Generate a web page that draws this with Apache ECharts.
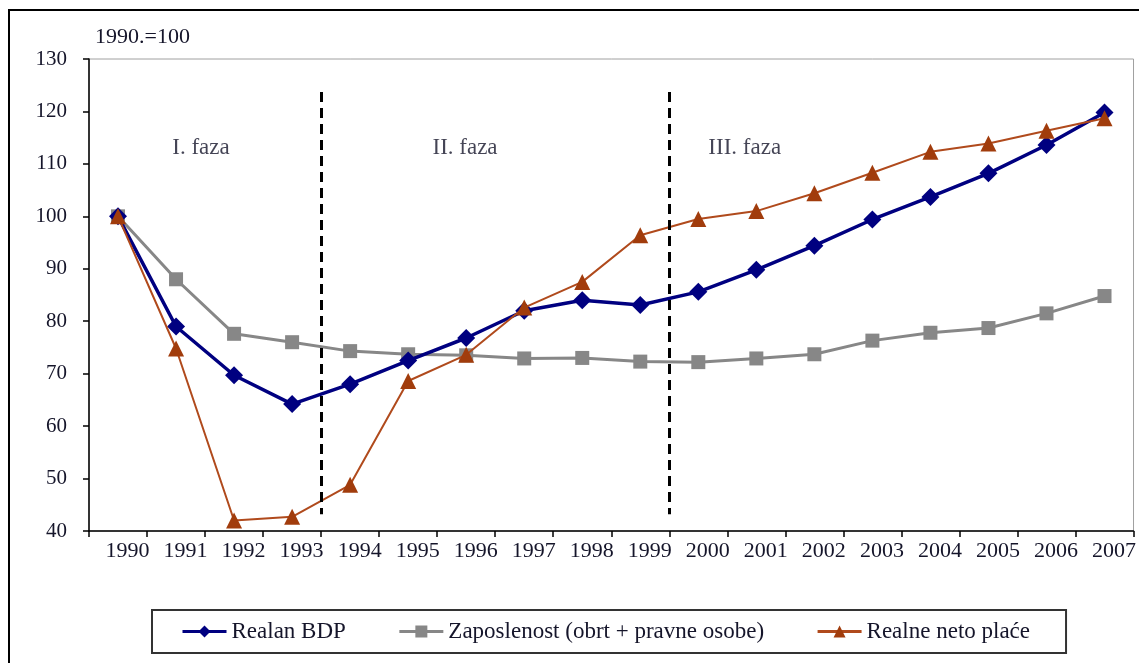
<!DOCTYPE html>
<html>
<head>
<meta charset="utf-8">
<script src="https://cdn.jsdelivr.net/npm/echarts@6/dist/echarts.min.js"></script>
<style>
  html, body { margin: 0; padding: 0; background: #fff; }
  #chart { width: 1139px; height: 663px; }
</style>
</head>
<body>
<div id="chart"></div>
<script>
// godine
var years = ['1990', '1991', '1992', '1993', '1994', '1995', '1996', '1997', '1998',
  '1999', '2000', '2001', '2002', '2003', '2004', '2005', '2006', '2007'];

// 1990.=100
var bdp = [100, 79, 69.7, 64.2, 68, 72.5, 76.8, 82, 84, 83.1, 85.6, 89.8, 94.4, 99.4, 103.7, 108.2, 113.6, 119.8];
var zaposlenost = [100, 88, 77.6, 76, 74.3, 73.7, 73.5, 72.9, 73, 72.3, 72.2, 72.9, 73.7, 76.3, 77.8, 78.7, 81.5, 84.8];
var place = [100, 74.8, 42, 42.7, 48.8, 68.6, 73.6, 82.6, 87.5, 96.4, 99.5, 101, 104.4, 108.3, 112.3, 113.9, 116.3, 118.7];

// faze - granice (na skali 0..18) i natpisi
var phaseBreaks = [4, 10];
var phaseNames = ['I. faza', 'II. faza', 'III. faza'];
var phaseX = [1.93, 6.48, 11.3];
var phaseY = 113;
var breakTop = 123.7;
var breakBottom = 43.2;

var serif = 'Liberation Serif';
var txt = '#15152a';

var phaseData = [];
for (var i = 0; i < phaseNames.length; i++) {
  phaseData.push({ name: phaseNames[i], value: [phaseX[i], phaseY] });
}
var breakLines = [];
for (var j = 0; j < phaseBreaks.length; j++) {
  breakLines.push([{ coord: [phaseBreaks[j], breakTop] }, { coord: [phaseBreaks[j], breakBottom] }]);
}

var dom = document.getElementById('chart');
var myChart = echarts.init(dom);
var option = {
  animation: false,
  textStyle: { fontFamily: serif },
  graphic: [{
    type: 'rect',
    shape: { x: 9, y: 10, width: 1200, height: 700 },
    style: { fill: 'none', stroke: '#000', lineWidth: 2 },
    silent: true
  }, {
    type: 'text',
    left: 95,
    top: 26,
    style: { text: '1990.=100', font: '22px "Liberation Serif"', fill: txt }
  }],
  grid: {
    left: 89,
    right: 5,
    top: 59,
    bottom: 132,
    show: true,
    borderColor: '#a0a0a0',
    borderWidth: 1
  },
  legend: {
    left: 152,
    top: 610,
    padding: [10, 36, 10, 29],
    borderColor: '#333',
    borderWidth: 2,
    itemWidth: 44,
    itemHeight: 15,
    itemGap: 52,
    lineStyle: { width: 3 },
    textStyle: { fontFamily: serif, fontSize: 23, color: txt },
    data: ['Realan BDP', 'Zaposlenost (obrt + pravne osobe)', 'Realne neto plaće']
  },
  xAxis: [{
    type: 'category',
    data: years,
    boundaryGap: true,
    axisLine: { lineStyle: { color: '#000', width: 1.5 } },
    axisTick: { show: true, length: 6, lineStyle: { color: '#000', width: 1.5 } },
    axisLabel: {
      fontFamily: serif, fontSize: 22, color: txt, margin: 9,
      padding: [0, 0, 0, 19], interval: 0
    },
    splitLine: { show: false }
  }, {
    type: 'value',
    min: 0,
    max: 18,
    show: false
  }],
  yAxis: {
    type: 'value',
    min: 40,
    max: 130,
    interval: 10,
    axisLine: { show: true, lineStyle: { color: '#000', width: 1.5 } },
    axisTick: { show: true, length: 6, lineStyle: { color: '#000', width: 1.5 } },
    axisLabel: { fontFamily: serif, fontSize: 21, color: txt, margin: 22 },
    splitLine: { show: false }
  },
  series: [{
    name: 'Zaposlenost (obrt + pravne osobe)',
    type: 'line',
    data: zaposlenost,
    symbol: 'rect',
    symbolSize: 14,
    lineStyle: { color: '#878787', width: 3 },
    itemStyle: { color: '#878787' },
    z: 2
  }, {
    name: 'Realan BDP',
    type: 'line',
    data: bdp,
    symbol: 'diamond',
    symbolSize: 18,
    lineStyle: { color: '#000080', width: 3.5 },
    itemStyle: { color: '#000080' },
    z: 3
  }, {
    name: 'Realne neto plaće',
    type: 'line',
    data: place,
    symbol: 'triangle',
    symbolSize: 16,
    lineStyle: { color: '#b04a1c', width: 2 },
    itemStyle: { color: '#a13c0c' },
    z: 4
  }, {
    name: 'faze',
    type: 'scatter',
    xAxisIndex: 1,
    data: phaseData,
    symbolSize: 1,
    itemStyle: { color: 'rgba(0,0,0,0)' },
    label: {
      show: true,
      position: 'inside',
      formatter: '{b}',
      fontFamily: serif,
      fontSize: 23,
      color: txt
    },
    markLine: {
      silent: true,
      symbol: ['none', 'none'],
      label: { show: false },
      lineStyle: { color: '#000', width: 3, type: [10, 6] },
      data: breakLines
    },
    z: 1
  }]
};
myChart.setOption(option);
</script>
</body>
</html>
